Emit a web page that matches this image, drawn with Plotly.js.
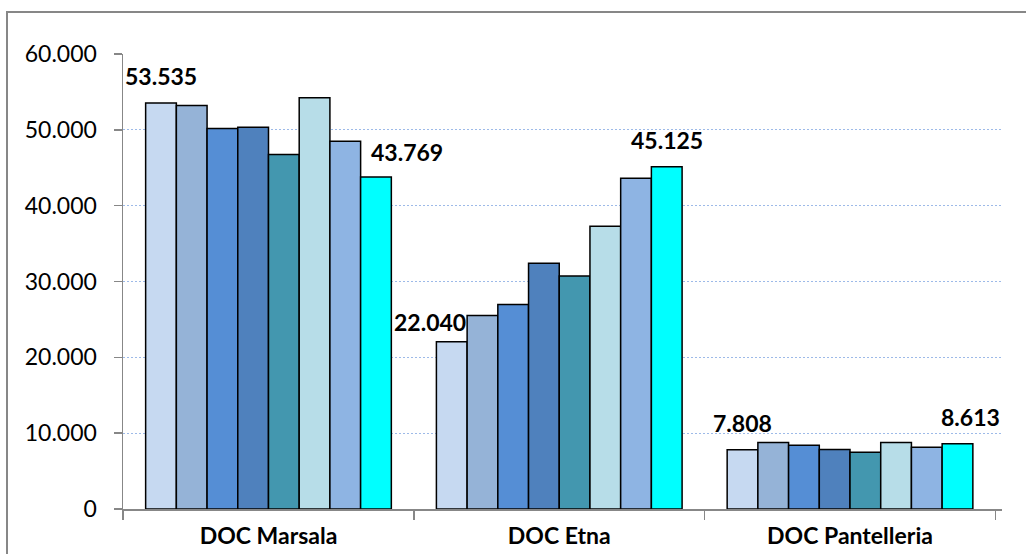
<!DOCTYPE html>
<html>
<head>
<meta charset="utf-8">
<script src="https://cdn.plot.ly/plotly-3.0.1.min.js"></script>
<style>
  html, body { margin: 0; padding: 0; background: #fff; }
  #wrap { position: relative; width: 1026px; height: 554px; overflow: hidden; }
  #frame { position: absolute; left: 6px; top: 11px; width: 1040px; height: 600px; border: 2px solid #878787; box-sizing: border-box; pointer-events: none; z-index: 2; }
  #chart { position: absolute; left: 0; top: 0; width: 1026px; height: 554px; }
</style>
</head>
<body>
<div id="wrap">
  <div id="chart"></div>
  <div id="frame"></div>
</div>
<script>
const categories = ["DOC Marsala", "DOC Etna", "DOC Pantelleria"];
const seriesNames = ["Serie 1", "Serie 2", "Serie 3", "Serie 4", "Serie 5", "Serie 6", "Serie 7", "Serie 8"];
const s1 = [53535, 22040, 7808];
const s2 = [53200, 25530, 8770];
const s3 = [50170, 26980, 8410];
const s4 = [50350, 32400, 7840];
const s5 = [46740, 30720, 7490];
const s6 = [54220, 37280, 8770];
const s7 = [48500, 43620, 8150];
const s8 = [43769, 45125, 8613];
const seriesValues = [s1, s2, s3, s4, s5, s6, s7, s8];
const colors = ["#C6D9F1", "#95B3D7", "#558ED5", "#4F81BD", "#4397AF", "#B7DDE8", "#8EB4E3", "#00FFFF"];
const yTicks = [0, 10000, 20000, 30000, 40000, 50000, 60000];

function fmt(v) {
  return String(Math.round(v)).replace(/\B(?=(\d{3})+(?!\d))/g, ".");
}

const bargap = 0.155;
const traces = seriesValues.map((vals, i) => ({
  type: "bar",
  name: seriesNames[i],
  x: categories,
  y: vals,
  marker: { color: colors[i], line: { color: "#000000", width: 1.5 } },
  hoverinfo: "x+y+name"
}));

const slotW = (1 - bargap) / seriesValues.length;
const labelSpec = [
  // [seriesIndex, categoryIndex, xshift, yshift]
  [0, 0, 0, 27],
  [7, 0, 31, 25],
  [0, 1, -22, 20],
  [7, 1, 0, 27],
  [0, 2, 0, 27],
  [7, 2, 13, 27]
];
const annotations = labelSpec.map(([si, ci, xs, ys]) => ({
  x: ci + (si - (seriesValues.length - 1) / 2) * slotW,
  y: seriesValues[si][ci],
  xref: "x", yref: "y",
  text: fmt(seriesValues[si][ci]),
  showarrow: false,
  xanchor: "center", yanchor: "middle",
  xshift: xs, yshift: ys,
  font: { family: "Lato, 'Open Sans', sans-serif", size: 23, color: "#000", weight: "bold" }
}));

const layout = {
  width: 1026, height: 554,
  margin: { l: 123, r: 24, t: 54, b: 45 },
  paper_bgcolor: "#ffffff",
  plot_bgcolor: "#ffffff",
  barmode: "group",
  bargap: bargap,
  bargroupgap: 0,
  showlegend: false,
  separators: ",.",
  font: { family: "Lato, 'Open Sans', sans-serif", color: "#000" },
  xaxis: {
    type: "category",
    showline: true, linecolor: "#878787", linewidth: 1.5,
    ticks: "outside", tickson: "boundaries", ticklen: 9, tickcolor: "#878787", tickwidth: 1.5,
    showgrid: false, zeroline: false,
    tickfont: { family: "Lato, 'Open Sans', sans-serif", size: 23, color: "#000", weight: "bold" },
    ticklabelstandoff: 6,
    fixedrange: true
  },
  yaxis: {
    range: [0, 60000],
    tickvals: yTicks,
    ticktext: yTicks.map(fmt),
    showline: true, linecolor: "#878787", linewidth: 1.5,
    ticks: "outside", ticklen: 8, tickcolor: "#878787", tickwidth: 1.5,
    showgrid: true, gridcolor: "#9DBAE8", gridwidth: 1.2, griddash: "2px,2px",
    zeroline: false,
    tickfont: { family: "Lato, 'Open Sans', sans-serif", size: 23, color: "#000" },
    ticklabelstandoff: 12,
    fixedrange: true
  },
  annotations: annotations
};

Plotly.newPlot("chart", traces, layout, { displayModeBar: false, staticPlot: true });
</script>
</body>
</html>
